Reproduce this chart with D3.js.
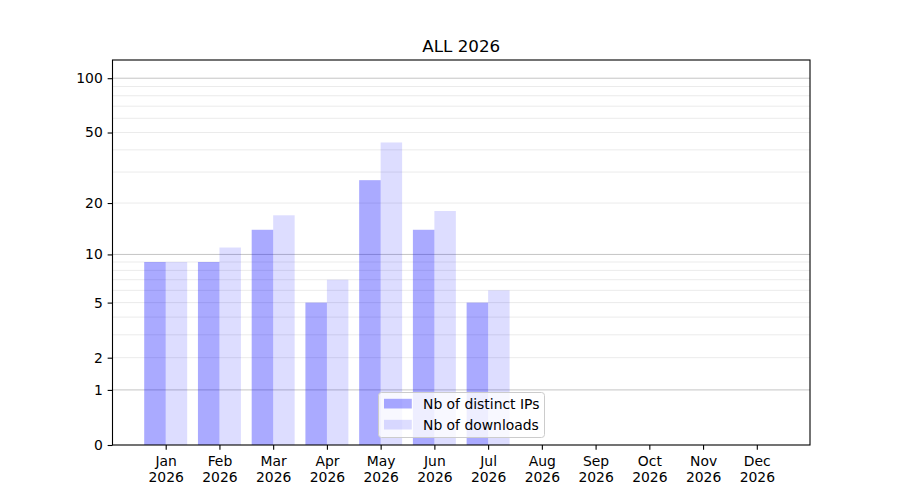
<!DOCTYPE html>
<html>
<head>
<meta charset="utf-8">
<script src="https://cdn.jsdelivr.net/npm/d3@7"></script>
<style>
  body { margin: 0; background: #fff; }
  svg { font-family: "DejaVu Sans", sans-serif; }
</style>
</head>
<body>
<div id="chart"></div>
<script>
/* chart data */
const months = ['Jan', 'Feb', 'Mar', 'Apr', 'May', 'Jun', 'Jul', 'Aug', 'Sep', 'Oct', 'Nov', 'Dec'];
const year = '2026';
const distinctIPs = [9, 9, 14, 5, 27, 14, 5, 0, 0, 0, 0, 0];
const downloads = [9, 11, 17, 7, 44, 18, 6, 0, 0, 0, 0, 0];
const yTicks = [0, 1, 2, 5, 10, 20, 50, 100];
const majorGrid = [1, 10, 100];
const minorGrid = [2, 3, 4, 5, 6, 7, 8, 9, 20, 30, 40, 50, 60, 70, 80, 90];
const seriesNames = ['Nb of distinct IPs', 'Nb of downloads'];
const title = 'ALL 2026';

const width = 900
const height = 500
const plotLeft = 112.5, plotRight = 810, plotTop = 60, plotBottom = 445
const tickLen = 4.86
const fontSize = 13.9

const svg = d3.select('#chart')
  .append('svg')
  .attr('width', width)
  .attr('height', height)

const x = d3.scaleLinear().domain([-0.99, 11.99]).range([plotLeft, plotRight])
// log10(1 + y) style axis
const y = d3.scaleSymlog().constant(1).domain([0, 126]).range([plotBottom, plotTop])
const barW = x(0.4) - x(0)

/* grid lines */
function drawGrid(values, color) {
  svg.append('g')
    .selectAll('line')
    .data(values)
    .enter()
    .append('line')
    .attr('x1', plotLeft)
    .attr('x2', plotRight)
    .attr('y1', d => y(d))
    .attr('y2', d => y(d))
    .attr('stroke', color)
    .attr('stroke-width', 1)
}
drawGrid(minorGrid, '#ebebeb')
drawGrid(majorGrid, '#c4c4c4')

/* bars */
const series = [
  { values: distinctIPs, offset: -0.4, opacity: 0.333 },
  { values: downloads, offset: 0, opacity: 0.133 }
]
series.forEach(s => {
  svg.append('g')
    .selectAll('rect')
    .data(s.values)
    .enter()
    .append('rect')
    .attr('x', (d, i) => x(i + s.offset))
    .attr('width', barW)
    .attr('y', d => y(d))
    .attr('height', d => y(0) - y(d))
    .attr('fill', 'blue')
    .attr('fill-opacity', s.opacity)
})

/* axes */
const yAxis = svg.append('g')
  .attr('transform', `translate(${plotLeft},0)`)
  .call(d3.axisLeft(y).tickValues(yTicks).tickFormat(d3.format('d'))
    .tickSize(tickLen).tickPadding(tickLen))
yAxis.select('.domain').remove()

const xAxis = svg.append('g')
  .attr('transform', `translate(0,${plotBottom})`)
  .call(d3.axisBottom(x).tickValues(d3.range(months.length)).tickFormat('')
    .tickSize(tickLen))
xAxis.select('.domain').remove()

xAxis.selectAll('.tick').append('text')
  .attr('fill', '#000')
  .attr('text-anchor', 'middle')
  .attr('y', 20.5)
  .each(function (d) {
    const t = d3.select(this)
    t.append('tspan').attr('x', 0).text(months[d])
    t.append('tspan').attr('x', 0).attr('dy', 16.5).text(year)
  })

svg.selectAll('.tick line').attr('stroke', '#000').attr('stroke-width', 1.1)
svg.selectAll('.tick text').attr('font-size', fontSize).attr('font-family', '"DejaVu Sans", sans-serif')
yAxis.selectAll('.tick text').attr('fill', '#000')

// frame
svg.append('rect')
  .attr('x', plotLeft)
  .attr('y', plotTop)
  .attr('width', plotRight - plotLeft)
  .attr('height', plotBottom - plotTop)
  .attr('fill', 'none')
  .attr('stroke', '#000')
  .attr('stroke-width', 1.1)

/* title */
svg.append('text')
  .attr('x', (plotLeft + plotRight) / 2)
  .attr('y', 51.7)
  .attr('text-anchor', 'middle')
  .attr('font-size', 16.7)
  .text(title)

/* legend */
const legend = svg.append('g').attr('transform', 'translate(378.5,392.5)')
legend.append('rect')
  .attr('width', 166)
  .attr('height', 45)
  .attr('rx', 3)
  .attr('fill', '#fff')
  .attr('fill-opacity', 0.8)
  .attr('stroke', '#cccccc')
  .attr('stroke-width', 1)

seriesNames.forEach((name, i) => {
  legend.append('rect')
    .attr('x', 5.5)
    .attr('y', 6.3 + i * 21)
    .attr('width', 27.8)
    .attr('height', 9.7)
    .attr('fill', 'blue')
    .attr('fill-opacity', series[i].opacity)
  legend.append('text')
    .attr('x', 44.5)
    .attr('y', 16 + i * 21)
    .attr('font-size', fontSize)
    .text(name)
})
</script>
</body>
</html>
